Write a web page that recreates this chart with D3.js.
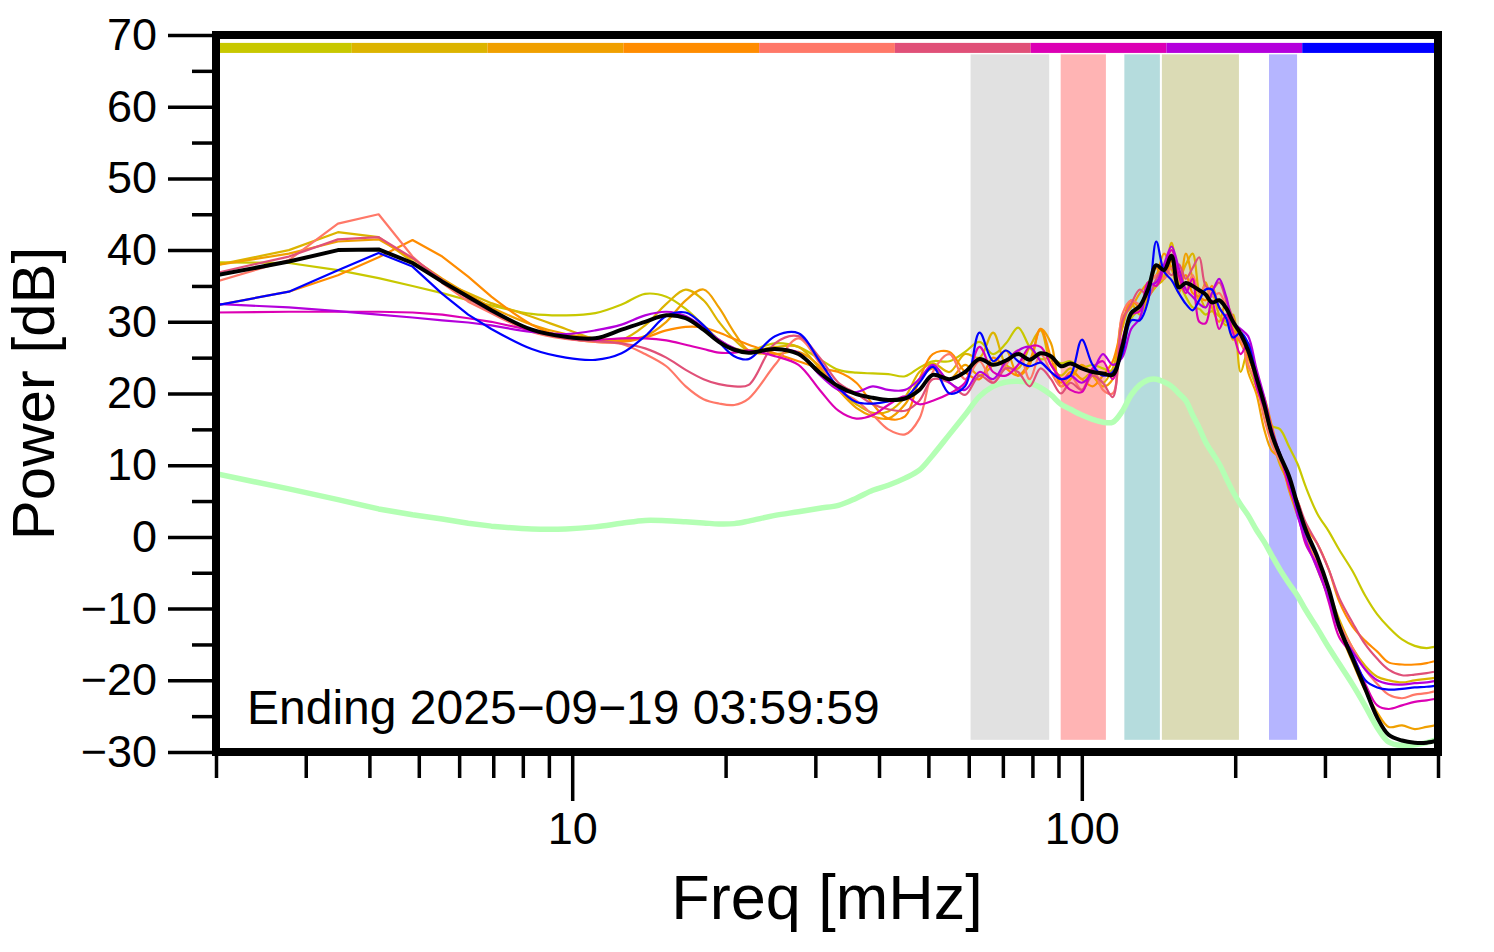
<!DOCTYPE html>
<html><head><meta charset="utf-8">
<script src="https://cdn.jsdelivr.net/npm/d3@7"></script>
<style>
body{margin:0;background:#fff}
svg{display:block}
text{font-family:"Liberation Sans",Arial,Helvetica,sans-serif;fill:#000}
</style>
</head><body><svg id="chart" width="1494" height="952"></svg>
<script>
// ---- data ----
const freqs = [
  2, 2.78, 3.47, 4.17, 4.86, 5.56, 6.25, 6.94, 8.33, 9.72,
  11.1, 12.5, 13.9, 15.3, 16.7, 18.1, 19.4, 20.8, 22.2, 25,
  27.8, 30.6, 33.3, 36.1, 38.9, 41.7, 45, 48, 51, 55,
  59, 63, 67, 71, 75, 79, 83, 87, 91, 95,
  100, 105, 110, 115, 120, 125, 130, 135, 140, 145,
  150, 155, 160, 165, 170, 175, 180, 186, 192, 198,
  205, 212, 220, 228, 236, 245, 255, 265, 275, 290,
  305, 320, 340, 360, 380, 400, 425, 450, 475, 500];

const oliveDb = [
  38.3, 38.2, 37.2, 36.1, 35.0, 34.0, 33.0, 32.3, 31.1, 30.9,
  31.2, 32.4, 33.9, 33.5, 31.8, 29.5, 27.5, 26.3, 26.0, 27.0,
  26.5, 24.8, 23.3, 22.9, 22.8, 22.7, 22.4, 23.6, 24.5, 24.5,
  25.8, 27.2, 25.5, 27.0, 29.2, 26.5, 24.8, 25.0, 24.2, 24.5,
  23.6, 24.0, 23.5, 23.2, 27.0, 30.5, 31.8, 33.5, 35.0, 36.5,
  37.5, 35.5, 33.5, 32.0, 31.8, 31.0, 31.5, 30.8, 30.0, 29.5,
  28.0, 24.0, 21.0, 18.5, 15.5, 15.0, 12.6, 10.2, 7.0, 3.2,
  0.8, -1.8, -4.8, -8.2, -10.8, -12.6, -14.3, -15.2, -15.5, -15.2];
const goldDb = [
  37.9, 40.0, 42.5, 41.8, 38.4, 35.6, 34.0, 32.6, 30.7, 29.0,
  27.6, 27.5, 29.5, 32.5, 34.5, 33.0, 30.0, 27.5, 26.0, 26.5,
  26.5, 23.5, 20.5, 18.5, 17.3, 17.5, 19.5, 23.0, 24.2, 23.0,
  25.5, 25.0, 28.5, 24.0, 23.5, 26.5, 28.8, 24.0, 22.5, 23.5,
  22.0, 23.0, 21.5, 23.5, 29.0, 32.5, 31.0, 33.5, 35.0, 36.0,
  41.0, 36.0, 38.0, 39.5, 34.0, 32.0, 34.0, 31.0, 29.5, 31.0,
  23.0, 26.0, 21.0, 17.5, 14.0, 10.0, 7.5, 4.5, 0.5, -3.5,
  -7.5, -11.5, -15.5, -18.0, -19.5, -20.0, -20.3, -20.0, -19.8, -19.6];
const orangeDb = [
  37.9, 39.5, 41.2, 41.5, 38.8, 36.0, 33.8, 32.0, 29.6, 28.3,
  27.7, 27.4, 28.0, 30.0, 33.0, 34.5, 32.0, 28.5, 26.0, 25.5,
  25.8, 23.8, 20.5, 18.0, 16.8, 16.5, 18.5, 22.0, 23.5, 22.0,
  24.0, 22.5, 24.0, 26.0, 22.5, 24.0, 29.0, 27.0, 21.0, 22.0,
  24.0, 22.5, 21.0, 22.0, 30.5, 32.0, 34.0, 35.5, 36.5, 39.5,
  37.5, 34.0, 39.5, 36.0, 33.0, 35.5, 32.0, 30.0, 33.0, 27.5,
  28.5, 23.0, 20.0, 15.0, 12.0, 11.0, 6.5, 3.0, 0.0, -4.5,
  -8.5, -13.0, -17.5, -21.5, -24.5, -26.5, -26.3, -26.8, -26.5, -26.2];
const darkOrangeDb = [
  32.3, 34.2, 36.5, 39.0, 41.4, 39.1, 36.3, 33.5, 29.6, 27.8,
  27.2, 27.2, 27.8, 28.8, 29.3, 29.2, 28.5, 27.6, 26.8, 25.6,
  24.5, 23.5, 23.0, 21.5, 18.5, 16.5, 16.8, 22.0, 25.5, 25.8,
  23.0, 22.0, 25.0, 23.5, 22.5, 24.5, 29.0, 25.0, 21.5, 23.0,
  22.0, 21.0, 22.5, 24.5, 29.5, 33.0, 32.0, 34.0, 37.5, 36.0,
  38.5, 35.0, 36.5, 34.0, 33.5, 33.0, 35.0, 32.0, 30.5, 29.0,
  27.0, 25.0, 22.0, 19.5, 15.5, 11.0, 7.0, 5.0, 1.5, -1.0,
  -4.5, -9.0, -12.5, -14.5, -16.0, -17.5, -17.8, -17.8, -17.6, -17.2];
const salmonDb = [
  35.6, 38.6, 43.7, 45.0, 39.1, 35.4, 32.8, 31.2, 28.6, 27.6,
  27.2, 26.9, 25.5, 23.8, 21.0, 19.2, 18.6, 18.4, 19.3, 24.0,
  27.7, 24.2, 20.5, 19.0, 17.0, 15.0, 14.3, 16.5, 23.0, 25.5,
  22.0, 24.5, 21.5, 24.0, 26.0, 22.0, 25.5, 23.0, 21.0, 22.5,
  20.5, 23.5, 20.5, 20.0, 31.0, 33.0, 32.5, 35.0, 36.5, 36.0,
  37.5, 36.0, 34.5, 36.5, 34.0, 35.0, 33.5, 34.0, 32.0, 28.5,
  27.5, 24.0, 21.5, 16.5, 13.0, 10.5, 8.0, 3.5, 0.5, -3.5,
  -7.5, -12.0, -15.5, -18.5, -20.5, -22.0, -22.5, -22.0, -21.8, -21.4];
const roseDb = [
  36.8, 39.1, 41.5, 41.8, 38.9, 35.8, 33.2, 31.4, 28.8, 27.7,
  27.3, 27.0, 26.3, 25.0, 23.3, 22.0, 21.3, 21.0, 21.2, 27.0,
  28.0, 25.0, 21.5, 20.0, 18.5, 17.8, 17.6, 19.0, 22.0, 21.5,
  19.8, 22.5, 21.5, 23.5, 23.0, 21.0, 23.5, 22.0, 20.0, 21.5,
  20.5, 22.5, 21.5, 19.5, 30.0, 32.5, 34.5, 33.5, 36.0, 37.5,
  36.5, 38.0, 36.0, 37.5, 39.0, 35.0, 34.5, 35.5, 33.0, 30.5,
  28.0, 26.0, 22.5, 19.0, 14.5, 11.0, 7.5, 5.0, 2.0, -1.0,
  -4.5, -8.5, -12.0, -15.0, -17.0, -18.5, -19.3, -19.2, -19.0, -18.7];
const magentaDb = [
  31.3, 31.4, 31.4, 31.4, 31.3, 31.0, 30.5, 30.0, 28.8, 28.0,
  27.5, 27.7, 27.7, 27.4, 26.8, 26.2, 25.7, 25.7, 26.0, 25.2,
  24.0, 20.5, 17.6, 16.5, 17.0, 18.4, 19.6, 18.5, 19.0, 20.0,
  21.5, 26.5, 23.0, 22.5, 24.0, 26.5, 26.5, 24.0, 22.0, 20.5,
  20.2, 23.5, 24.5, 22.0, 27.5, 31.0, 31.5, 35.5, 35.0, 37.5,
  40.0, 36.5, 34.0, 36.0, 30.0, 29.8, 33.0, 29.0, 31.0, 28.5,
  25.5, 27.0, 21.0, 18.0, 14.5, 11.5, 7.0, 3.5, -1.0, -4.0,
  -9.0, -14.0, -16.5, -20.5, -23.5, -24.0, -23.5, -23.0, -22.8, -22.5];
const purpleDb = [
  32.5, 32.0, 31.5, 31.0, 30.6, 30.2, 29.9, 29.5, 28.6, 28.3,
  28.8, 29.6, 30.9, 31.4, 30.8, 29.2, 27.5, 26.3, 25.7, 26.2,
  25.7, 22.6, 20.5, 20.2, 21.0, 20.5, 20.5, 22.0, 24.0, 21.5,
  20.5, 23.0, 22.0, 24.5, 26.0, 26.5, 24.5, 23.0, 22.0, 22.5,
  21.5, 23.0, 25.5, 24.0, 25.0, 29.0, 30.5, 35.0, 35.5, 38.0,
  40.5, 37.5, 34.5, 33.5, 32.5, 32.0, 34.0, 36.0, 33.5, 30.0,
  29.0, 28.0, 23.5, 19.5, 15.0, 11.5, 8.0, 3.0, -0.5, -4.5,
  -8.5, -13.0, -16.0, -18.5, -20.0, -20.5, -20.6, -20.4, -20.3, -20.0];
const blueDb = [
  32.3, 34.2, 37.2, 39.6, 37.7, 33.9, 31.0, 29.0, 26.2, 25.0,
  24.7, 25.6, 28.0, 30.8, 31.3, 29.5, 27.2, 25.2, 24.8, 28.0,
  28.4, 24.5, 20.8, 18.8, 18.6, 18.9, 19.4, 21.5, 23.7, 20.0,
  21.0, 28.5, 24.5, 26.0, 24.5, 23.8, 24.3, 23.0, 22.0, 22.5,
  27.5, 24.0, 22.5, 23.0, 25.5, 30.2, 30.2, 33.0, 41.2, 37.0,
  35.8, 34.0, 32.5, 31.6, 33.0, 34.5, 34.5, 32.0, 30.5, 27.8,
  28.5, 27.0, 22.5, 18.5, 14.5, 11.5, 8.0, 4.0, 0.5, -3.0,
  -7.5, -12.5, -16.5, -20.0, -21.0, -21.3, -21.2, -21.0, -20.9, -20.7];
const meanDb = [
  36.5, 38.4, 40.0, 40.1, 38.2, 35.6, 33.5, 31.6, 28.9, 27.9,
  27.7, 28.9, 30.0, 30.9, 30.5, 28.9, 27.2, 26.1, 25.7, 26.2,
  25.5, 22.9, 21.0, 19.9, 19.4, 19.1, 19.3, 20.5, 22.6, 22.0,
  23.0, 24.8, 24.0, 24.6, 25.5, 24.7, 25.6, 25.2, 23.8, 24.2,
  23.5, 23.0, 22.8, 22.6, 26.5, 31.2, 32.2, 34.6, 37.9, 37.2,
  39.2, 34.8, 35.4, 35.0, 34.4, 33.8, 32.7, 33.0, 31.9, 30.0,
  28.3, 26.0, 22.3, 18.5, 14.3, 11.3, 8.5, 4.5, 1.0, -2.8,
  -7.2, -12.5, -17.0, -21.2, -25.2, -27.6, -28.4, -28.7, -28.7, -28.4];
const quietDb = [
  8.8, 6.7, 5.2, 3.9, 3.1, 2.5, 1.9, 1.5, 1.1, 1.1,
  1.4, 1.9, 2.3, 2.25, 2.1, 1.95, 1.8, 1.85, 2.2, 3.0,
  3.5, 4.0, 4.4, 5.4, 6.5, 7.2, 8.2, 9.3, 11.4, 14.3,
  17.0, 19.6, 21.0, 21.6, 21.7, 21.5, 20.8, 19.8, 18.5, 17.8,
  17.0, 16.4, 16.0, 16.0, 17.5, 19.8, 21.2, 21.9, 22.0, 21.6,
  21.0, 20.0, 19.0, 17.0, 15.2, 13.2, 11.8, 10.2, 8.2, 6.3,
  4.5, 3.0, 1.0, -0.7, -2.6, -4.6, -6.5, -8.2, -10.2, -12.8,
  -15.4, -17.7, -20.6, -23.6, -26.6, -28.6, -29.1, -29.0, -28.7, -28.2];

const seriesColors = ["#c8c800", "#dcb400", "#f0a000", "#ff8c00", "#ff7868",
                      "#e05078", "#dc00b4", "#b400dc", "#0000ff"];
const seriesValues = [oliveDb, goldDb, orangeDb, darkOrangeDb, salmonDb,
                      roseDb, magentaDb, purpleDb, blueDb];

const bandRanges = [[60.5, 86.3], [90.9, 111.5], [121.2, 142.3], [143.6, 203.4], [233, 264.5]];
const bandColors = ["#e1e1e1", "#ffb4b4", "#b5dcdd", "#dbdbb5", "#b5b5ff"];
const bandDbRange = [-28.3, 67.3];
const colorBarDb = [67.5, 68.9];

const xDomain = [2, 500];
const yDomain = [-30, 70];
const xMajorTicks = [10, 100];
const xMinorTicks = [2, 3, 4, 5, 6, 7, 8, 9, 20, 30, 40, 50, 60, 70, 80, 90, 200, 300, 400, 500];
const yMajorTicks = [-30, -20, -10, 0, 10, 20, 30, 40, 50, 60, 70];
const yMinorTicks = [-25, -15, -5, 5, 15, 25, 35, 45, 55, 65];
const xTitle = "Freq [mHz]";
const yTitle = "Power [dB]";
const annotation = "Ending 2025\u221209\u221219 03:59:59";

// ---- layout ----
const L = 216, R = 1438, T = 35, B = 752;
const svg = d3.select("#chart");
const x = d3.scaleLog().domain(xDomain).range([L, R]);
const y = d3.scaleLinear().domain(yDomain).range([B, T]);

svg.append("defs").append("clipPath").attr("id", "plotClip")
  .append("rect").attr("x", L).attr("y", T).attr("width", R - L).attr("height", B - T);

const plot = svg.append("g").attr("clip-path", "url(#plotClip)");

// shaded bands
plot.selectAll("rect.band").data(bandRanges).join("rect")
  .attr("class", "band")
  .attr("x", d => x(d[0]))
  .attr("width", d => x(d[1]) - x(d[0]))
  .attr("y", y(bandDbRange[1]))
  .attr("height", y(bandDbRange[0]) - y(bandDbRange[1]))
  .attr("fill", (d, i) => bandColors[i]);

// top colour bar: segments equal in log-frequency
const logMin = Math.log10(xDomain[0]), logMax = Math.log10(xDomain[1]);
const segEdges = d3.range(seriesColors.length + 1)
  .map(i => Math.pow(10, logMin + (logMax - logMin) * i / seriesColors.length));
plot.selectAll("rect.seg").data(seriesColors).join("rect")
  .attr("class", "seg")
  .attr("x", (d, i) => x(segEdges[i]))
  .attr("width", (d, i) => x(segEdges[i + 1]) - x(segEdges[i]))
  .attr("y", y(colorBarDb[1]))
  .attr("height", y(colorBarDb[0]) - y(colorBarDb[1]))
  .attr("fill", d => d);

// low-frequency bins are joined by straight segments, the dense part is smoothed
const SPLIT = 7;
const lineLow = d3.line().x(d => x(d[0])).y(d => y(d[1]));
const lineHigh = d3.line().x(d => x(d[0])).y(d => y(d[1]))
  .curve(d3.curveCatmullRom.alpha(0.5));
const pathFor = vals => {
  const p = freqs.map((f, i) => [f, vals[i]]);
  const hi = lineHigh(p.slice(SPLIT));
  return lineLow(p.slice(0, SPLIT + 1)) + "L" + hi.slice(1);
};

// quiet reference (green)
plot.append("path").attr("d", pathFor(quietDb)).attr("fill", "none")
  .attr("stroke", "#b4ffb4").attr("stroke-width", 5.5)
  .attr("stroke-linejoin", "round");

// colored series
plot.selectAll("path.series").data(seriesValues).join("path")
  .attr("class", "series")
  .attr("d", v => pathFor(v))
  .attr("fill", "none")
  .attr("stroke", (v, i) => seriesColors[i])
  .attr("stroke-width", 2.2)
  .attr("stroke-linejoin", "round");

// mean (black)
plot.append("path").attr("d", pathFor(meanDb)).attr("fill", "none")
  .attr("stroke", "#000").attr("stroke-width", 4)
  .attr("stroke-linejoin", "round");

// annotation
svg.append("text").attr("x", 247).attr("y", 724)
  .attr("font-size", 48).text(annotation);

// axes
const fmt = d => d < 0 ? "\u2212" + Math.abs(d) : String(d);
function styleAxis(g) {
  g.select(".domain").remove();
  g.selectAll(".tick line").attr("stroke", "#000").attr("stroke-width", 3.5);
  g.selectAll(".tick text").attr("font-size", 45).attr("fill", "#000")
    .attr("font-family", "'Liberation Sans',Arial,Helvetica,sans-serif");
}
svg.append("g").attr("transform", `translate(0,${B})`)
  .call(d3.axisBottom(x).tickValues(xMinorTicks).tickSize(26).tickFormat(""))
  .call(styleAxis);
svg.append("g").attr("transform", `translate(0,${B})`)
  .call(d3.axisBottom(x).tickValues(xMajorTicks).tickSize(49).tickPadding(11).tickFormat(d3.format("d")))
  .call(styleAxis);
svg.append("g").attr("transform", `translate(${L},0)`)
  .call(d3.axisLeft(y).tickValues(yMinorTicks).tickSize(24).tickFormat(""))
  .call(styleAxis);
svg.append("g").attr("transform", `translate(${L},0)`)
  .call(d3.axisLeft(y).tickValues(yMajorTicks).tickSize(48).tickPadding(11).tickFormat(fmt))
  .call(styleAxis);

// frame
svg.append("rect").attr("x", L).attr("y", T).attr("width", R - L).attr("height", B - T)
  .attr("fill", "none").attr("stroke", "#000").attr("stroke-width", 8);

// titles
svg.append("text").attr("x", (L + R) / 2).attr("y", 919)
  .attr("text-anchor", "middle").attr("font-size", 63).text(xTitle);
svg.append("text").attr("transform", `translate(54,${(T + B) / 2}) rotate(-90)`)
  .attr("text-anchor", "middle").attr("font-size", 60).text(yTitle);
</script>
</body></html>
